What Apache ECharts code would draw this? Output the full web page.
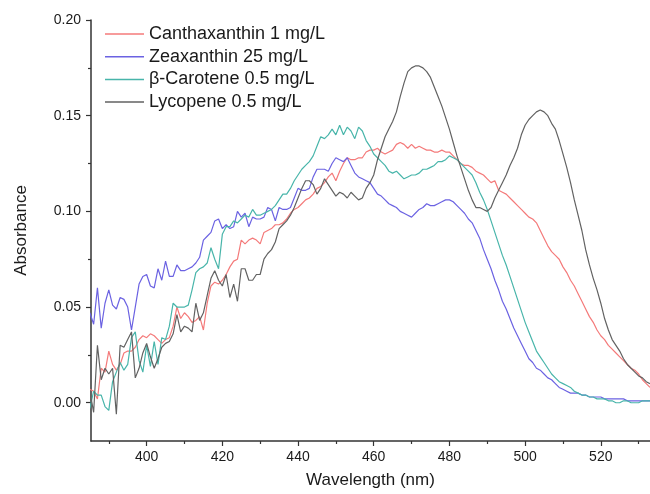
<!DOCTYPE html>
<html>
<head>
<meta charset="utf-8">
<title>Carotenoid absorbance spectra</title>
<script src="https://cdn.jsdelivr.net/npm/echarts@6/dist/echarts.min.js"></script>
<style>
  html, body { margin: 0; padding: 0; background: #fff; }
  #grafico { width: 650px; height: 494px; }
</style>
</head>
<body>
<div id="grafico"></div>
<script>
// wavelength grid (nm), 385..533
const wavelengths = [
  385,386,387,388,389,390,391,392,393,394,
  395,396,397,398,399,400,401,402,403,404,
  405,406,407,408,409,410,411,412,413,414,
  415,416,417,418,419,420,421,422,423,424,
  425,426,427,428,429,430,431,432,433,434,
  435,436,437,438,439,440,441,442,443,444,
  445,446,447,448,449,450,451,452,453,454,
  455,456,457,458,459,460,461,462,463,464,
  465,466,467,468,469,470,471,472,473,474,
  475,476,477,478,479,480,481,482,483,484,
  485,486,487,488,489,490,491,492,493,494,
  495,496,497,498,499,500,501,502,503,504,
  505,506,507,508,509,510,511,512,513,514,
  515,516,517,518,519,520,521,522,523,524,
  525,526,527,528,529,530,531,532,533
];

const canthaxanthin = [
  0.007,0.006,0.002,0.018,0.016,0.027,0.020,0.017,0.020,0.026,
  0.027,0.027,0.029,0.033,0.035,0.034,0.036,0.035,0.033,0.031,
  0.033,0.034,0.040,0.050,0.044,0.047,0.045,0.042,0.043,0.045,
  0.038,0.052,0.061,0.063,0.062,0.064,0.067,0.071,0.074,0.075,
  0.085,0.083,0.085,0.086,0.085,0.083,0.089,0.090,0.091,0.093,
  0.093,0.094,0.096,0.099,0.101,0.102,0.104,0.106,0.107,0.109,
  0.112,0.113,0.115,0.118,0.120,0.116,0.121,0.125,0.128,0.127,
  0.127,0.128,0.128,0.131,0.132,0.132,0.133,0.131,0.130,0.131,
  0.132,0.135,0.136,0.135,0.133,0.135,0.133,0.134,0.133,0.132,
  0.132,0.131,0.131,0.132,0.131,0.131,0.129,0.127,0.125,0.124,
  0.124,0.123,0.121,0.120,0.119,0.117,0.115,0.116,0.111,0.110,
  0.109,0.107,0.105,0.103,0.101,0.099,0.097,0.096,0.094,0.090,
  0.086,0.082,0.079,0.077,0.075,0.071,0.068,0.064,0.061,0.057,
  0.053,0.049,0.045,0.042,0.038,0.035,0.033,0.030,0.028,0.026,
  0.024,0.022,0.020,0.018,0.017,0.015,0.012,0.010,0.008
];

const zeaxanthin = [
  0.047,0.041,0.060,0.039,0.052,0.059,0.051,0.049,0.055,0.054,
  0.050,0.038,0.050,0.062,0.066,0.067,0.061,0.060,0.070,0.064,
  0.074,0.066,0.066,0.072,0.069,0.069,0.070,0.071,0.073,0.076,
  0.085,0.087,0.089,0.095,0.096,0.091,0.093,0.091,0.092,0.100,
  0.097,0.099,0.092,0.097,0.096,0.096,0.097,0.102,0.101,0.095,
  0.102,0.101,0.101,0.102,0.107,0.112,0.111,0.111,0.112,0.118,
  0.122,0.122,0.122,0.121,0.125,0.128,0.127,0.126,0.128,0.124,
  0.120,0.118,0.117,0.116,0.115,0.112,0.109,0.108,0.106,0.104,
  0.103,0.102,0.100,0.099,0.098,0.097,0.099,0.101,0.102,0.104,
  0.103,0.103,0.104,0.105,0.106,0.106,0.105,0.103,0.101,0.099,
  0.096,0.094,0.090,0.086,0.080,0.075,0.070,0.064,0.059,0.053,
  0.049,0.044,0.039,0.035,0.031,0.027,0.023,0.021,0.018,0.017,
  0.015,0.013,0.012,0.010,0.008,0.007,0.006,0.005,0.005,0.005,
  0.004,0.004,0.003,0.003,0.003,0.003,0.002,0.002,0.002,0.002,
  0.002,0.002,0.001,0.001,0.001,0.001,0.001,0.001,0.001
];

const betaCarotene = [
  -0.003,0.006,0.004,0.004,-0.002,-0.004,0.011,0.016,0.021,0.017,
  0.020,0.034,0.037,0.022,0.016,0.030,0.019,0.032,0.020,0.034,
  0.033,0.040,0.052,0.050,0.050,0.050,0.051,0.059,0.068,0.070,
  0.071,0.073,0.081,0.075,0.070,0.088,0.092,0.092,0.095,0.094,
  0.096,0.098,0.097,0.101,0.098,0.098,0.099,0.100,0.101,0.103,
  0.106,0.109,0.109,0.112,0.116,0.119,0.122,0.124,0.126,0.129,
  0.134,0.139,0.138,0.140,0.143,0.140,0.145,0.140,0.144,0.142,
  0.138,0.144,0.142,0.137,0.134,0.130,0.128,0.126,0.124,0.121,
  0.120,0.121,0.119,0.117,0.118,0.119,0.119,0.120,0.122,0.122,
  0.123,0.124,0.126,0.126,0.127,0.129,0.128,0.127,0.125,0.123,
  0.121,0.119,0.115,0.110,0.106,0.101,0.095,0.089,0.083,0.077,
  0.072,0.066,0.060,0.054,0.048,0.042,0.037,0.032,0.027,0.024,
  0.021,0.018,0.015,0.013,0.011,0.010,0.009,0.008,0.006,0.005,
  0.004,0.004,0.003,0.003,0.002,0.002,0.002,0.001,0.001,0.000,
  0.000,0.001,0.001,0.000,0.000,0.000,0.001,0.001,0.001
];

const lycopene = [
  0.006,-0.005,0.030,0.012,0.018,0.015,0.018,-0.006,0.030,0.029,
  0.033,0.037,0.013,0.018,0.026,0.031,0.024,0.018,0.023,0.029,
  0.031,0.032,0.036,0.046,0.037,0.040,0.039,0.037,0.052,0.043,
  0.047,0.056,0.065,0.069,0.064,0.061,0.067,0.055,0.062,0.053,
  0.070,0.070,0.064,0.064,0.067,0.067,0.075,0.078,0.080,0.084,
  0.091,0.093,0.095,0.098,0.102,0.107,0.112,0.116,0.116,0.114,
  0.109,0.112,0.117,0.114,0.111,0.108,0.110,0.109,0.107,0.110,
  0.108,0.106,0.107,0.112,0.115,0.119,0.127,0.133,0.139,0.143,
  0.147,0.152,0.160,0.167,0.173,0.175,0.176,0.176,0.175,0.173,
  0.170,0.165,0.160,0.155,0.149,0.143,0.136,0.129,0.123,0.117,
  0.111,0.106,0.102,0.102,0.101,0.100,0.102,0.107,0.111,0.115,
  0.119,0.124,0.128,0.133,0.140,0.145,0.148,0.150,0.152,0.153,
  0.152,0.150,0.146,0.143,0.137,0.130,0.123,0.115,0.106,0.098,
  0.090,0.080,0.072,0.065,0.059,0.052,0.044,0.038,0.033,0.030,
  0.027,0.023,0.020,0.018,0.016,0.014,0.013,0.011,0.010
];

// tick labels
const xTicks = [400, 420, 440, 460, 480, 500, 520];
const xMinorTicks = [390, 410, 430, 450, 470, 490, 510, 530];
const yTicks = [0, 0.05, 0.10, 0.15, 0.20];
const yMinorTicks = [0.025, 0.075, 0.125, 0.175];

const nomes = ['Canthaxanthin 1 mg/L', 'Zeaxanthin 25 mg/L', '\u03b2-Carotene 0.5 mg/L', 'Lycopene 0.5 mg/L'];
const valores = [canthaxanthin, zeaxanthin, betaCarotene, lycopene];
const cores = ['#f47a7a', '#6b62e2', '#48b5aa', '#626262'];

const FONTE = '"Liberation Sans", Arial, sans-serif';
const X_MIN = 385.3, X_MAX = 533;
const Y_MIN = -0.02, Y_MAX = 0.20;

const chart = echarts.init(document.getElementById('grafico'), null, { renderer: 'canvas' });

const eixoLinha = { show: true, onZero: false, lineStyle: { color: '#333', width: 1.5 } };

chart.setOption({
  backgroundColor: '#fff',
  animation: false,
  grid: { left: 91, right: 0, top: 20, bottom: 53, containLabel: false },
  legend: {
    orient: 'vertical',
    left: 105,
    top: 25,
    padding: 0,
    icon: 'rect',
    itemWidth: 39,
    itemHeight: 1.5,
    itemGap: 4.7,
    textStyle: { fontFamily: FONTE, fontSize: 18, color: '#1a1a1a', lineHeight: 18 },
    data: nomes
  },
  xAxis: [
    {
      type: 'value', min: X_MIN, max: X_MAX, position: 'bottom',
      name: 'Wavelength (nm)', nameLocation: 'middle', nameGap: 31,
      nameTextStyle: { fontFamily: FONTE, fontSize: 17, color: '#1a1a1a' },
      axisLine: eixoLinha,
      axisTick: { show: true, length: 5, customValues: xTicks, lineStyle: { color: '#333', width: 1.2 } },
      axisLabel: { customValues: xTicks, margin: 9, fontFamily: FONTE, fontSize: 14, color: '#1a1a1a' },
      splitLine: { show: false }
    },
    {
      type: 'value', min: X_MIN, max: X_MAX, position: 'bottom', gridIndex: 0,
      axisLine: { show: false, onZero: false },
      axisTick: { show: true, length: 3, customValues: xMinorTicks, lineStyle: { color: '#333', width: 1.2 } },
      axisLabel: { show: false },
      splitLine: { show: false }
    }
  ],
  yAxis: [
    {
      type: 'value', min: Y_MIN, max: Y_MAX, position: 'left',
      name: 'Absorbance', nameLocation: 'middle', nameGap: 61, nameRotate: 90,
      nameTextStyle: { fontFamily: FONTE, fontSize: 17, color: '#1a1a1a' },
      axisLine: eixoLinha,
      axisTick: { show: true, length: 5, customValues: yTicks, lineStyle: { color: '#333', width: 1.2 } },
      axisLabel: {
        customValues: yTicks, margin: 10, fontFamily: FONTE, fontSize: 14, color: '#1a1a1a',
        formatter: v => v.toFixed(2)
      },
      splitLine: { show: false }
    },
    {
      type: 'value', min: Y_MIN, max: Y_MAX, position: 'left', gridIndex: 0,
      axisLine: { show: false, onZero: false },
      axisTick: { show: true, length: 3, customValues: yMinorTicks, lineStyle: { color: '#333', width: 1.2 } },
      axisLabel: { show: false },
      splitLine: { show: false }
    }
  ],
  series: nomes.map((nome, i) => ({
    name: nome,
    type: 'line',
    xAxisIndex: 0,
    yAxisIndex: 0,
    symbol: 'none',
    clip: true,
    color: cores[i],
    lineStyle: { color: cores[i], width: 1.2 },
    data: wavelengths.map((w, j) => [w, valores[i][j]])
  }))
});
</script>
</body>
</html>
